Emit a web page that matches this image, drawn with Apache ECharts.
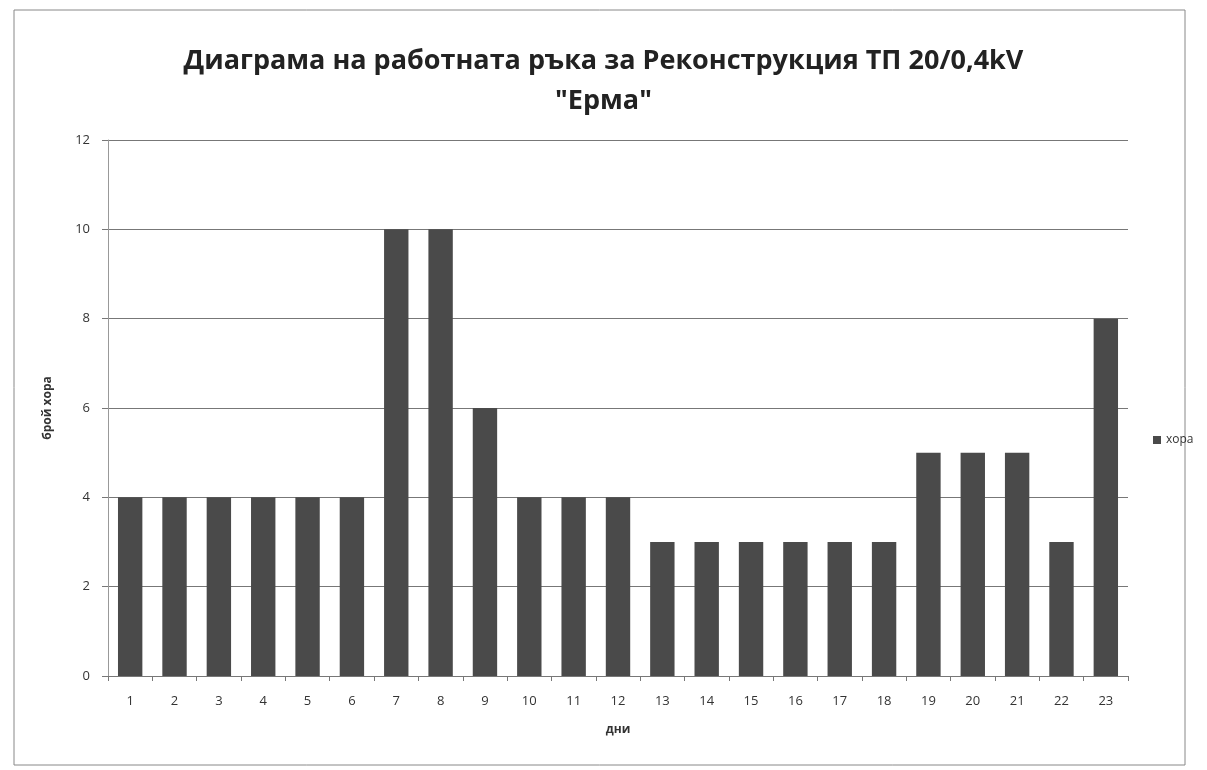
<!DOCTYPE html>
<html><head><meta charset="utf-8">
<script src="https://cdn.jsdelivr.net/npm/echarts@6/dist/echarts.min.js"></script>
<style>html,body{margin:0;padding:0;background:#fff}#c{width:1207px;height:770px}</style>
</head><body><div id="c"></div>
<script>
const categories = ['1','2','3','4','5','6','7','8','9','10','11','12','13','14','15','16','17','18','19','20','21','22','23'];
const seriesName = 'хора';
const values = [4,4,4,4,4,4,10,10,6,4,4,4,3,3,3,3,3,3,5,5,5,3,8];
const titleLines = ['Диаграма на работната ръка за Реконструкция ТП 20/0,4kV', '"Ерма"'];
const xName = 'дни';
const yName = 'брой хора';

const chart = echarts.init(document.getElementById('c'));
chart.setOption({
  animation: false,
  backgroundColor: '#fff',
  title: {
    text: titleLines.join('\n'),
    left: 'center', top: 36,
    textStyle: {fontFamily: 'Open Sans', fontWeight: 'bold', fontSize: 27, color: '#222', lineHeight: 40}
  },
  legend: {
    data: [seriesName], orient: 'vertical', left: 1148, top: 429,
    icon: 'rect', itemWidth: 8, itemHeight: 8, itemGap: 4,
    textStyle: {fontFamily: 'Open Sans', fontSize: 12, color: '#333'}
  },
  grid: {left: 108, right: 79, top: 140, bottom: 94},
  xAxis: {
    type: 'category', data: categories,
    name: xName, nameLocation: 'middle', nameGap: 48,
    nameTextStyle: {fontFamily: 'Open Sans', fontWeight: 'bold', fontSize: 12, color: '#333'},
    axisLine: {lineStyle: {color: '#777'}},
    axisTick: {show: true, alignWithLabel: false, length: 5, lineStyle: {color: '#777'}},
    axisLabel: {fontFamily: 'Open Sans', fontSize: 13, color: '#333', margin: 19}
  },
  yAxis: {
    type: 'value', min: 0, max: 12, interval: 2,
    name: yName, nameLocation: 'middle', nameGap: 54,
    nameTextStyle: {fontFamily: 'Open Sans', fontWeight: 'bold', fontSize: 12, color: '#333'},
    axisLine: {show: true, lineStyle: {color: '#999'}},
    axisTick: {show: true, length: 6, lineStyle: {color: '#777'}},
    axisLabel: {fontFamily: 'Open Sans', fontSize: 13, color: '#333', margin: 18},
    splitLine: {lineStyle: {color: '#777'}}
  },
  graphic: [{
    type: 'rect', shape: {x: 14, y: 10, width: 1171, height: 755},
    style: {fill: 'none', stroke: '#888', lineWidth: 1}, silent: true
  }],
  series: [{
    name: seriesName, type: 'bar', data: values,
    barWidth: '55%',
    itemStyle: {color: '#4a4a4a'}
  }]
});
</script></body></html>
